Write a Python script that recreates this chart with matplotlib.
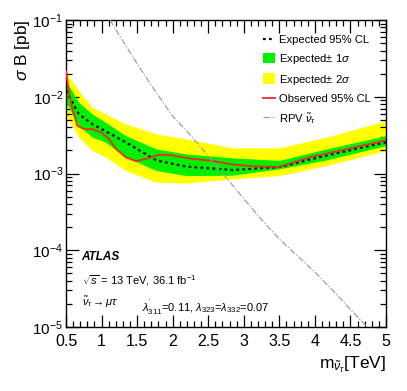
import matplotlib
matplotlib.use("Agg")
import matplotlib.pyplot as plt
from matplotlib.lines import Line2D
from matplotlib.patches import Patch
from matplotlib.ticker import MultipleLocator, LogLocator, LogFormatterMathtext, FixedLocator, NullFormatter

plt.rcParams['font.family'] = ['Liberation Sans', 'DejaVu Sans']
plt.rcParams['mathtext.fontset'] = 'custom'
plt.rcParams['mathtext.rm'] = 'Liberation Sans'
plt.rcParams['mathtext.it'] = 'Liberation Sans:italic'
plt.rcParams['mathtext.bf'] = 'Liberation Sans:bold'

# Expected limit and bands (pb)
band_mass = [0.5, 0.68, 0.87, 1.06, 1.34, 1.77, 2.19, 2.84, 3.5, 4.16, 5.0]
expected = [1.2e-2, 5.96e-3, 4.4e-3, 3.54e-3, 2.55e-3, 1.48e-3, 1.23e-3, 1.11e-3, 1.21e-3, 1.71e-3, 2.55e-3]
green_up = [1.61e-2, 8.44e-3, 5.96e-3, 4.64e-3, 3.12e-3, 2.09e-3, 1.80e-3, 1.60e-3, 1.48e-3, 2.09e-3, 3.11e-3]
green_lo = [8.44e-3, 4.2e-3, 2.97e-3, 2.55e-3, 1.63e-3, 1.09e-3, 9.4e-4, 9.5e-4, 1.15e-3, 1.5e-3, 2.31e-3]
yellow_up = [2.07e-2, 1.2e-2, 7.27e-3, 5.96e-3, 4.42e-3, 3.27e-3, 2.82e-3, 2.16e-3, 2.16e-3, 2.97e-3, 4.88e-3]
yellow_lo = [5.67e-3, 2.97e-3, 1.99e-3, 1.63e-3, 1.09e-3, 7.7e-4, 7.5e-4, 8.5e-4, 9.4e-4, 1.27e-3, 1.99e-3]

# Observed limit
obs_mass = [0.5, 0.55, 0.61, 0.66, 0.75, 0.87, 1.0, 1.11, 1.2, 1.34, 1.48, 1.62, 1.8, 1.95,
            2.28, 2.52, 2.84, 3.22, 3.5, 3.93, 4.4, 5.0]
observed = [2.17e-2, 1.0e-2, 6.0e-3, 4.2e-3, 3.8e-3, 3.8e-3, 3.4e-3, 2.8e-3, 2.1e-3, 1.63e-3,
            1.45e-3, 1.55e-3, 1.75e-3, 1.75e-3, 1.55e-3, 1.48e-3, 1.31e-3, 1.23e-3, 1.22e-3,
            1.63e-3, 2.03e-3, 2.7e-3]

# RPV sneutrino theory cross-section
rpv_mass = [1.12, 1.25, 1.5, 1.75, 2.0, 2.25, 2.5, 2.75, 3.0, 3.25, 3.5, 3.75, 4.0, 4.25, 4.5, 4.75]
rpv_xsec = [1.0e-1, 6.3e-2, 2.69e-2, 1.2e-2, 5.6e-3, 3.16e-3, 1.7e-3, 8.9e-4, 4.7e-4, 2.5e-4,
            1.4e-4, 8.5e-5, 5.2e-5, 3.0e-5, 1.7e-5, 9.6e-6]

xticks = [0.5, 1, 1.5, 2, 2.5, 3, 3.5, 4, 4.5, 5]
xticklabels = ["0.5", "1", "1.5", "2", "2.5", "3", "3.5", "4", "4.5", "5"]

fig = plt.figure(figsize=(4.07, 3.91), dpi=100)
ax = fig.add_axes([66/407, 1 - 327/391, 320/407, 307/391])

ax.fill_between(band_mass, yellow_lo, yellow_up, color='#ffff00', lw=0, zorder=1)
ax.fill_between(band_mass, green_lo, green_up, color='#00f000', lw=0, zorder=2)
ax.plot(band_mass, expected, color='black', ls=(0, (1.2, 1.5)), lw=1.6, zorder=3)
ax.plot(obs_mass, observed, color='#ee2a2a', lw=1.3, zorder=4)
ax.plot(rpv_mass, rpv_xsec, color='#a0a0a0', lw=0.9, ls=(0, (5, 1.5, 1, 1.5)), zorder=5)

ax.set_yscale('log')
ax.set_xlim(0.5, 5)
ax.set_ylim(1e-5, 1e-1)
ax.xaxis.set_major_locator(FixedLocator(xticks))
ax.set_xticklabels(xticklabels)
ax.xaxis.set_minor_locator(MultipleLocator(0.1))
ax.yaxis.set_major_locator(LogLocator(base=10, numticks=10))
ax.yaxis.set_major_formatter(LogFormatterMathtext())
ax.yaxis.set_minor_locator(LogLocator(base=10, subs=range(2, 10), numticks=20))
ax.yaxis.set_minor_formatter(NullFormatter())

ax.tick_params(which='both', direction='in', top=True, right=True, labelsize=11.5, width=0.9)
ax.tick_params(axis='y', labelsize=11)
ax.tick_params(which='major', length=9)
ax.tick_params(axis='x', which='major', pad=5)
ax.tick_params(axis='y', which='major', pad=2)
ax.tick_params(which='minor', length=4.5)
for s in ax.spines.values():
    s.set_linewidth(1.0)

ax.set_xlabel(r"m$_{\tilde{\nu}_{\tau}}$[TeV]", fontsize=12.5, loc='right', labelpad=4)
ax.set_ylabel(r"$\sigma$ B [pb]", fontsize=12.5, loc='top', labelpad=0)

ax.text(0.049, 0.218, "ATLAS", transform=ax.transAxes, fontsize=8.5,
        fontweight='bold', fontstyle='italic')
ax.text(0.049, 0.137, r"$\sqrt{s}$ = 13 TeV, 36.1 fb$^{\mathregular{-1}}$", transform=ax.transAxes, fontsize=8.0)
ax.text(0.049, 0.068, r"$\tilde{\nu}_{\tau} \rightarrow \mu\tau$", transform=ax.transAxes, fontsize=8.0)
ax.text(0.237, 0.05, r"$\lambda^{'}_{311}$=0.11, $\lambda_{323}$=$\lambda_{332}$=0.07",
        transform=ax.transAxes, fontsize=8.0)

handles = [
    Line2D([], [], color='black', ls=(0, (1.2, 1.5)), lw=1.6),
    Patch(facecolor='#00f000', edgecolor='none'),
    Patch(facecolor='#ffff00', edgecolor='none'),
    Line2D([], [], color='#ee2a2a', lw=1.3),
    Line2D([], [], color='#a0a0a0', lw=0.9, ls=(0, (5, 1.5, 1, 1.5))),
]
labels = ["Expected 95% CL", r"Expected$\pm$ 1$\sigma$", r"Expected$\pm$ 2$\sigma$",
          "Observed 95% CL", r"RPV $\tilde{\nu}_{\tau}$"]
ax.legend(handles, labels, loc='upper left', bbox_to_anchor=(0.615, 0.953), frameon=False,
          fontsize=8.1, handlelength=1.05, handleheight=1.05, handletextpad=0.35,
          labelspacing=0.58, borderaxespad=0, borderpad=0)

fig.savefig("out.png", dpi=100)
